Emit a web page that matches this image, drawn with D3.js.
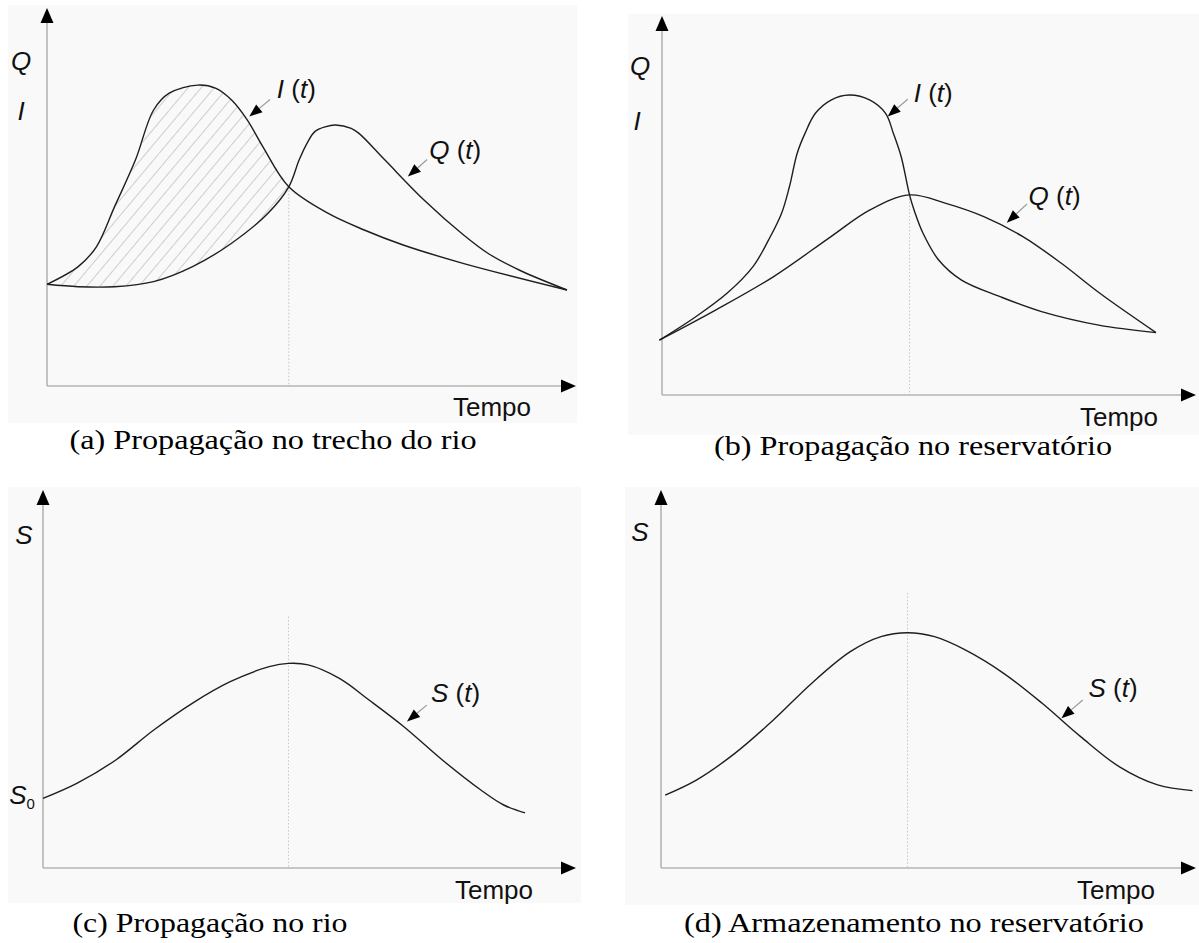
<!DOCTYPE html>
<html><head><meta charset="utf-8">
<script src="https://cdn.jsdelivr.net/npm/d3@7"></script>
<style>body{margin:0;background:#fff} svg{display:block}</style>
</head><body><svg id="fig" width="1199" height="943"></svg>
<script>
// ---- (a) river reach: inflow and outflow hydrographs ----
const tInA = [0, 6, 9.5, 13, 17, 20.5, 23.5, 29, 32.5, 35.5, 38.5, 41.5, 46.5, 54, 61, 68.5, 80, 100];
const inflowA = [33.9, 39.8, 46.4, 59.8, 75.3, 92, 97.6, 100.3, 99.2, 95.3, 88.7, 79.8, 66.4, 57.6, 52, 47, 40.9, 32];
const tOutA = [0, 6, 13, 20.5, 28, 35.5, 42.5, 46.5, 48.5, 50, 51.5, 53.5, 55.5, 58.5, 60, 65, 72.5, 80, 85, 91, 100];
const outflowA = [33.9, 33.1, 33.1, 34.8, 39.8, 47.6, 57.6, 66.4, 75.4, 80.9, 84.8, 86.4, 87, 85.9, 84.2, 75.3, 62, 50.5, 44, 38.5, 32];
const crossA = [46.5, 66.4];

// ---- (b) reservoir: inflow and outflow hydrographs ----
const tInB = [-0.5, 6.5, 12.5, 17.5, 20.5, 23, 24.5, 26, 27.5, 29.5, 32.5, 36, 40, 43, 44.5, 46, 47.6, 48.6, 50.2, 53.2, 57.6, 65, 73, 84, 95];
const inflowB = [18.3, 26.1, 33.9, 42.8, 51.7, 60.6, 69.4, 80.6, 87.2, 93.9, 98.3, 100, 98.3, 93.9, 87.2, 79.4, 66.7, 61, 53.9, 45, 38.3, 32.8, 27.8, 23.3, 20.8];
const tOutB = [-0.5, 10.3, 21.4, 32.5, 40, 47.6, 54.6, 62, 69.4, 76.8, 84.2, 95];
const outflowB = [18.3, 28.3, 39.4, 52.8, 61.7, 66.7, 63.9, 59.4, 52.8, 43.9, 33.9, 20.8];
const crossB = [47.6, 66.7];

// ---- (c) storage in the river reach ----
const tC = [0, 6.5, 14, 21.3, 28.7, 36, 43.5, 47.2, 51, 57, 62.7, 69.4, 76.8, 84.2, 88.6, 92.7];
const storageC = [23.2, 28.2, 36, 46, 54.9, 62.1, 67.1, 68.2, 67.7, 63.2, 56, 47.1, 36, 26, 21, 18.4];
const peakLineC = [47.2, 83.8];

// ---- (d) storage in the reservoir ----
const tD = [0.8, 6.8, 14.2, 21.6, 29, 36.4, 42.3, 47.4, 52.6, 58.5, 65.9, 73.3, 80.7, 88.1, 95.5, 102.2];
const storageD = [24.3, 29.3, 38.2, 49.3, 61.6, 72.1, 77.1, 78.4, 77.1, 72.7, 64.9, 54.9, 43.8, 33.8, 27.7, 25.8];
const peakLineD = [47.4, 91.7];

// curve callouts: label anchor, arrow tail and arrow tip (time, value)
const calloutsA = [
  {sym: "I", t: 44.2, v: 96, tail: [42.9, 95.5], tip: [38.9, 89.8]},
  {sym: "Q", t: 73.5, v: 75.7, tail: [73.1, 75.5], tip: [69.4, 69.8]}
];
const calloutsB = [
  {sym: "I", t: 48.4, v: 97.7, tail: [47.25, 98.6], tip: [43.4, 92.8]},
  {sym: "Q", t: 70.5, v: 63.3, tail: [70.2, 63.7], tip: [66.3, 57.4]}
];
const calloutsC = [{sym: "S", t: 74.6, v: 55.3, tail: [73.8, 54.3], tip: [70, 48.8]}];
const calloutsD = [{sym: "S", t: 82.2, v: 57, tail: [81.1, 56], tip: [77, 49.9]}];

const captions = [
  "(a) Propagação no trecho do rio",
  "(b) Propagação no reservatório",
  "(c) Propagação no rio",
  "(d) Armazenamento no reservatório"
];
const xTitle = "Tempo";

const svg = d3.select("#fig");
const SANS = "'Liberation Sans', Arial, sans-serif";
const SERIF = "'Liberation Serif', 'Times New Roman', serif";
const INK = "#1e1e1e";

const zip = (a, b) => a.map((d, i) => [d, b[i]]);

function makePanel(L) {
  const g = svg.append("g");
  g.append("rect").attr("x", L.bg[0]).attr("y", L.bg[1]).attr("width", L.bg[2]).attr("height", L.bg[3])
    .attr("fill", "#f9f9f9");
  const x = d3.scaleLinear().domain([0, 100]).range([L.x0, L.x0 + 520]);
  const y = d3.scaleLinear().domain([0, 100]).range([L.y0, L.y0 - 300]);
  const line = d3.line().x(d => x(d[0])).y(d => y(d[1])).curve(d3.curveCatmullRom.alpha(0.5));
  // axes with filled arrowheads
  const ax = g.append("g");
  ax.append("line").attr("x1", L.x0).attr("y1", L.y0).attr("x2", L.x0).attr("y2", L.top + 12)
    .attr("stroke", "#b4b4b4").attr("stroke-width", 1.6);
  ax.append("line").attr("x1", L.x0).attr("y1", L.y0).attr("x2", L.right - 12).attr("y2", L.y0)
    .attr("stroke", "#b4b4b4").attr("stroke-width", 1.6);
  ax.append("path").attr("d", `M${L.x0},${L.top}L${L.x0 - 6.5},${L.top + 15}L${L.x0 + 6.5},${L.top + 15}Z`).attr("fill", "#000");
  ax.append("path").attr("d", `M${L.right},${L.y0}L${L.right - 15},${L.y0 - 6.5}L${L.right - 15},${L.y0 + 6.5}Z`).attr("fill", "#000");
  g.append("text").attr("x", L.tempo[0]).attr("y", L.tempo[1]).attr("font-family", SANS).attr("font-size", 26)
    .attr("fill", "#111").text(xTitle);
  return {g, x, y, line};
}

function guide(P, pt) {
  P.g.append("line").attr("x1", P.x(pt[0])).attr("x2", P.x(pt[0])).attr("y1", P.y(pt[1])).attr("y2", P.y(0))
    .attr("stroke", "#c4c4c4").attr("stroke-width", 1).attr("stroke-dasharray", "1.5,2");
}

function curve(P, pts) {
  P.g.append("path").attr("d", P.line(pts)).attr("fill", "none").attr("stroke", INK).attr("stroke-width", 1.4);
}

function callouts(P, list) {
  list.forEach(c => {
    const x1 = P.x(c.tail[0]), y1 = P.y(c.tail[1]), x2 = P.x(c.tip[0]), y2 = P.y(c.tip[1]);
    const a = Math.atan2(y2 - y1, x2 - x1), len = 13, w = 5;
    const bx = x2 - len * Math.cos(a), by = y2 - len * Math.sin(a);
    P.g.append("line").attr("x1", x1).attr("y1", y1).attr("x2", bx).attr("y2", by)
      .attr("stroke", "#9a9a9a").attr("stroke-width", 1.2);
    P.g.append("path").attr("d", `M${x2},${y2}L${bx + w * Math.sin(a)},${by - w * Math.cos(a)}L${bx - w * Math.sin(a)},${by + w * Math.cos(a)}Z`)
      .attr("fill", "#000");
    const t = P.g.append("text").attr("x", P.x(c.t)).attr("y", P.y(c.v)).attr("font-family", SANS)
      .attr("font-size", 26).attr("fill", "#111");
    t.append("tspan").attr("font-style", "italic").text(c.sym);
    t.append("tspan").text(" (");
    t.append("tspan").attr("font-style", "italic").text("t");
    t.append("tspan").text(")");
  });
}

function yLabel(P, txt, px, py, sub) {
  const t = P.g.append("text").attr("x", px).attr("y", py).attr("font-family", SANS).attr("font-size", 26)
    .attr("fill", "#111").attr("text-anchor", "middle");
  t.append("tspan").attr("font-style", "italic").text(txt);
  if (sub) t.append("tspan").attr("font-size", 15).attr("dy", 5).text(sub);
}

// captions are set in a tall serif, slightly widened
function caption(txt, cx, y, width) {
  svg.append("text").attr("x", cx - width / 2).attr("y", y).attr("font-family", SERIF).attr("font-size", 28)
    .attr("textLength", width).attr("lengthAdjust", "spacingAndGlyphs").attr("fill", "#000").text(txt);
}

// ---------- (a) ----------
const A = makePanel({x0: 47, y0: 386, top: 8, right: 576, bg: [8, 5, 569, 418], tempo: [453, 416]});
const inA = zip(tInA, inflowA), outA = zip(tOutA, outflowA);
const iCross = tInA.indexOf(crossA[0]), oCross = tOutA.indexOf(crossA[0]);
const hatch = svg.append("defs").append("pattern").attr("id", "hatch").attr("patternUnits", "userSpaceOnUse")
  .attr("width", 10).attr("height", 10).attr("patternTransform", "rotate(40)");
hatch.append("line").attr("x1", 0).attr("y1", 0).attr("x2", 0).attr("y2", 10).attr("stroke", "#a8a8a8").attr("stroke-width", 1.1);
const stored = A.line(inA.slice(0, iCross + 1)) + A.line(outA.slice(0, oCross + 1).reverse()).replace(/^M/, "L") + "Z";
A.g.append("path").attr("d", stored).attr("fill", "url(#hatch)");
guide(A, crossA);
curve(A, inA);
curve(A, outA);
callouts(A, calloutsA);
yLabel(A, "Q", 21, 70);
yLabel(A, "I", 21, 120);

// ---------- (b) ----------
const B = makePanel({x0: 662, y0: 395, top: 16, right: 1196, bg: [628, 14, 571, 421], tempo: [1080, 426]});
guide(B, crossB);
curve(B, zip(tInB, inflowB));
curve(B, zip(tOutB, outflowB));
callouts(B, calloutsB);
yLabel(B, "Q", 640, 75);
yLabel(B, "I", 637, 130);

// ---------- (c) ----------
const C = makePanel({x0: 43, y0: 868, top: 490, right: 576, bg: [8, 487, 573, 416], tempo: [455, 899]});
guide(C, peakLineC);
curve(C, zip(tC, storageC));
callouts(C, calloutsC);
yLabel(C, "S", 24, 544);
yLabel(C, "S", 22, 804, "0");

// ---------- (d) ----------
const D = makePanel({x0: 661, y0: 868, top: 490, right: 1196, bg: [625, 487, 574, 418], tempo: [1077, 899]});
guide(D, peakLineD);
curve(D, zip(tD, storageD));
callouts(D, calloutsD);
yLabel(D, "S", 640, 541);

// captions
caption(captions[0], 273, 449, 407);
caption(captions[1], 913, 455, 398);
caption(captions[2], 210, 932, 275);
caption(captions[3], 914, 932, 460);
</script></body></html>
